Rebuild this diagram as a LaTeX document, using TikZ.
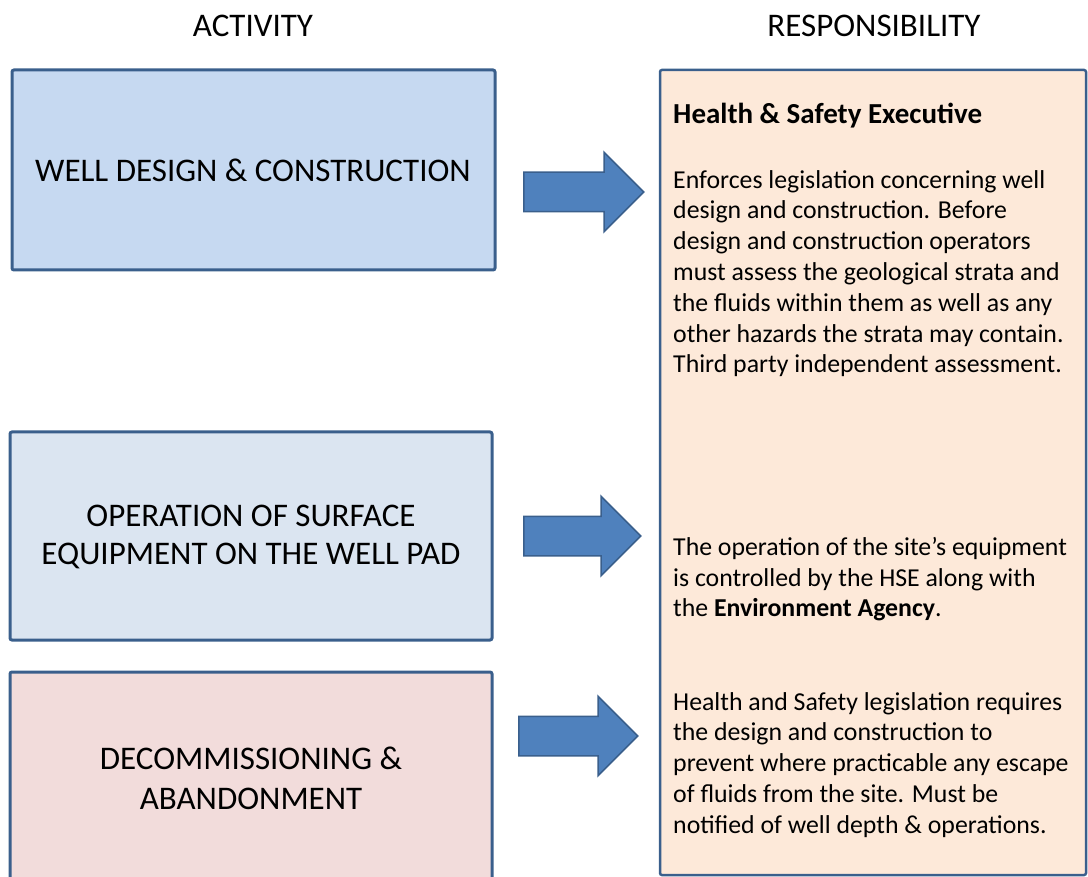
\documentclass[tikz,border=0pt]{standalone}
\usepackage{fontspec}
\setmainfont{Carlito}
\usetikzlibrary{shapes.arrows}

\definecolor{edgeblue}{HTML}{3A5F8C}
\definecolor{fillone}{HTML}{C6D9F1}
\definecolor{filltwo}{HTML}{DBE5F1}
\definecolor{fillthree}{HTML}{F2DCDB}
\definecolor{fillresp}{HTML}{FDE9D9}
\definecolor{arrowblue}{HTML}{4F81BD}

\tikzset{
  actbox/.style={draw=edgeblue, line width=3pt, rounded corners=2pt},
  headtext/.style={font=\fontsize{33}{38}\selectfont},
  boxtext/.style={font=\fontsize{33}{38}\selectfont, align=center},
  resptext/.style={font=\fontsize{25.8}{30.8}\selectfont, align=left, anchor=north west, inner sep=0pt},
  bigarrow/.style={single arrow, draw=edgeblue, fill=arrowblue, line width=1.5pt, anchor=tail,
    inner sep=19pt, single arrow head extend=20pt, single arrow head indent=0pt},
}

\begin{document}
\begin{tikzpicture}[x=1pt, y=-1pt]
  \useasboundingbox (0,0) rectangle (1088,877);
  % titres
  \node[headtext] (acthead) at (253,26) {ACTIVITY};
  \node[headtext] (resphead) at (874,26) {RESPONSIBILITY};
  % activites
  \fill[fillone] (12,70) rectangle (495,270);
  \draw[actbox] (12,70) rectangle (495,270);
  \node[boxtext] (design) at (253,170) {WELL DESIGN \& CONSTRUCTION};
  \fill[filltwo] (10,432) rectangle (492,640);
  \draw[actbox] (10,432) rectangle (492,640);
  \node[boxtext] (surface) at (251,537) {OPERATION OF SURFACE\\EQUIPMENT ON THE WELL PAD};
  \fill[fillthree] (10,672) rectangle (492,890);
  \draw[actbox] (10,672) rectangle (492,890);
  \node[boxtext, font=\fontsize{33}{40}\selectfont] (decom) at (251,778) {DECOMMISSIONING \&\\ABANDONMENT};
  % responsabilite
  \fill[fillresp] (660,70) rectangle (1086,875);
  \draw[edgeblue, line width=2.5pt, rounded corners=2pt] (660,70) rectangle (1086,875);
  \node[resptext, anchor=west, font=\fontsize{29}{32}\selectfont] (hse) at (673,116) {\textbf{Health \& Safety Executive}};
  \node[resptext] (hsetext) at (673,170) {Enforces legislation concerning well\\
    design and construction. Before\\
    design and construction operators\\
    must assess the geological strata and\\
    the fluids within them as well as any\\
    other hazards the strata may contain.\\
    Third party independent assessment.};
  \node[resptext] (eatext) at (673,537) {The operation of the site’s equipment\\
    is controlled by the HSE along with\\
    the \textbf{Environment Agency}.};
  \node[resptext] (sitetext) at (673,692) {Health and Safety legislation requires\\
    the design and construction to\\
    prevent where practicable any escape\\
    of fluids from the site. Must be\\
    notified of well depth \& operations.};
  % fleches
  \node[bigarrow, minimum height=120pt] (arrowone) at (523,192) {};
  \node[bigarrow, minimum height=117pt] (arrowtwo) at (523,536) {};
  \node[bigarrow, minimum height=119pt] (arrowthree) at (518,736) {};
\end{tikzpicture}
\end{document}
